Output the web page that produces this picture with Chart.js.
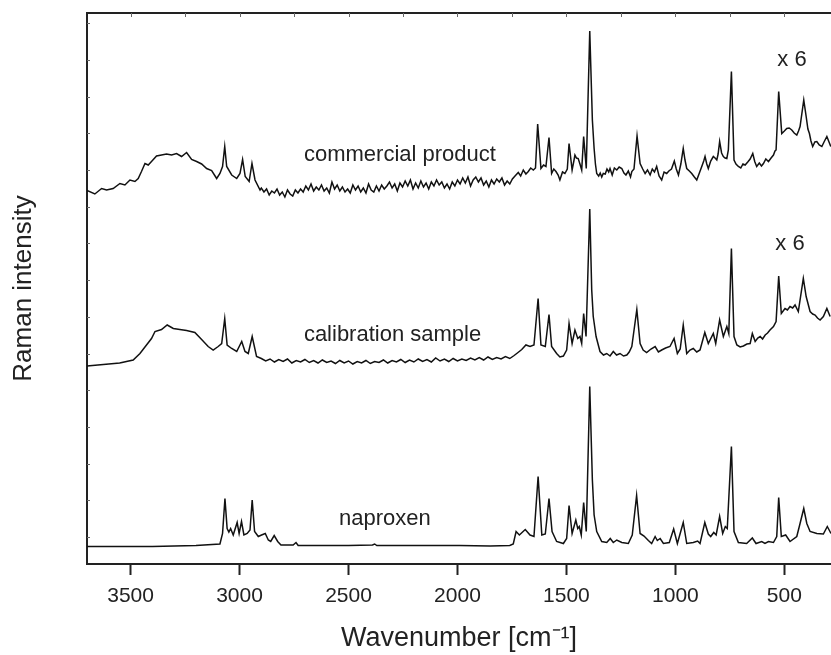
<!DOCTYPE html>
<html>
<head>
<meta charset="utf-8">
<script src="https://cdn.jsdelivr.net/npm/chart.js@4.4.0/dist/chart.umd.min.js"></script>
<style>
  html, body { margin: 0; padding: 0; background: #fff; overflow: hidden; }
</style>
</head>
<body>
<canvas id="raman" width="831" height="655"></canvas>
<script>
// wavenumber (cm-1) / intensity (a.u.)
const napWn = [
  3700, 3400, 3200, 3090, 3078, 3067, 3057, 3049, 3041, 3029,
  3011, 3002, 2991, 2980, 2965, 2952, 2942, 2931, 2914, 2899,
  2882, 2868, 2857, 2841, 2825, 2810, 2754, 2741, 2731, 2662,
  2500, 2390, 2380, 2370, 2200, 1990, 1850, 1760, 1744, 1731,
  1716, 1689, 1667, 1649, 1630, 1613, 1597, 1580, 1566, 1545,
  1514, 1499, 1488, 1474, 1457, 1448, 1441, 1432, 1421, 1409,
  1393, 1381, 1373, 1361, 1338, 1315, 1299, 1285, 1269, 1246,
  1216, 1198, 1178, 1162, 1144, 1124, 1109, 1093, 1083, 1070,
  1055, 1028, 1008, 991, 964, 948, 918, 898, 887, 865,
  849, 838, 824, 813, 797, 783, 771, 762, 743, 731,
  711, 673, 647, 630, 604, 589, 573, 550, 535, 526,
  514, 494, 474, 443, 428, 411, 397, 382, 351, 321,
  303, 286
];
const napI = [
  35, 35, 37, 40, 61, 131, 71, 64, 71, 58,
  83, 61, 85, 58, 61, 68, 128, 65, 55, 58,
  61, 48, 45, 57, 45, 38, 38, 43, 37, 37,
  37, 38, 40, 37, 37, 37, 36, 37, 40, 65,
  58, 69, 58, 55, 175, 58, 60, 131, 65, 45,
  41, 51, 117, 61, 88, 71, 75, 58, 123, 65,
  355, 168, 98, 65, 45, 43, 51, 43, 48, 43,
  41, 58, 137, 61, 56, 47, 41, 55, 47, 51,
  41, 43, 70, 41, 83, 41, 43, 46, 41, 83,
  60, 55, 63, 58, 95, 61, 75, 71, 235, 65,
  43, 41, 52, 41, 45, 41, 45, 43, 55, 133,
  55, 58, 45, 55, 81, 111, 81, 65, 61, 60,
  75, 61
];

const calWn = [
  3700, 3650, 3600, 3550, 3488, 3457, 3427, 3404, 3388, 3358,
  3332, 3304, 3274, 3243, 3205, 3174, 3144, 3121, 3098, 3082,
  3068, 3057, 3036, 3013, 2990, 2975, 2960, 2942, 2922,
  2900, 2880, 2860, 2840, 2820, 2800, 2780, 2760, 2740, 2720,
  2700, 2680, 2660, 2640, 2620, 2600, 2580, 2560, 2540, 2520,
  2500, 2480, 2460, 2440, 2420, 2400, 2380, 2360, 2340, 2320,
  2300, 2280, 2260, 2240, 2220, 2200, 2180, 2160, 2140, 2120,
  2100, 2080, 2060, 2040, 2020, 2000, 1980, 1960, 1940, 1920,
  1900, 1880, 1860, 1840, 1820, 1800, 1780, 1760, 1740,
  1728, 1705, 1686, 1667, 1649, 1630, 1617, 1597, 1580, 1568,
  1545, 1530, 1514, 1499, 1488, 1474, 1461, 1448, 1438, 1430,
  1421, 1410, 1393, 1384, 1377, 1364, 1346, 1330, 1315, 1300,
  1285, 1270, 1254, 1238, 1223, 1212, 1200, 1177, 1162, 1148,
  1132, 1112, 1093, 1078, 1063, 1045, 1025, 1006, 991, 978,
  964, 948, 933, 918, 902, 887, 865, 849, 826, 815,
  797, 780, 764, 755, 743, 731, 718, 703, 688, 672,
  657, 647, 634, 622, 611, 600, 588, 577, 566, 550,
  538, 526, 514, 497, 486, 474, 462, 451, 436, 413,
  400, 382, 370, 359, 348, 336, 321, 305, 290
];
const calI = [
  396, 398, 400, 402, 408, 421, 438, 451, 465, 469,
  478, 471, 469, 467, 463, 449, 435, 428, 435, 441,
  491, 438, 431, 425, 445, 425, 421, 455, 415,
  411, 406, 410, 404, 409, 405, 410, 402, 407, 404,
  409, 403, 407, 402, 408, 403, 406, 401, 407, 402,
  406, 400, 405, 402, 407, 401, 405, 403, 408, 402,
  407, 404, 409, 403, 408, 404, 410, 405, 409, 404,
  412, 406, 410, 405, 411, 406, 410, 407, 412, 408,
  413, 408, 414, 409, 413, 410, 415, 411, 417,
  421, 429, 438, 435, 438, 531, 438, 435, 499, 435,
  421, 414, 416, 428, 481, 441, 468, 451, 455, 441,
  501, 455, 710, 548, 495, 455, 425, 418, 421, 416,
  425, 418, 421, 416, 418, 424, 435, 509, 441, 428,
  423, 430, 435, 424, 428, 432, 435, 451, 421, 430,
  478, 421, 428, 431, 424, 428, 463, 441, 461, 441,
  488, 455, 475, 461, 631, 455, 438, 434, 436, 440,
  441, 461, 445, 452, 455, 450, 458, 462, 468, 475,
  485, 576, 501, 511, 508, 515, 512, 518, 505, 571,
  535, 505, 500, 498, 492, 488, 495, 511, 495
];

const comWn = [
  3700, 3664, 3633, 3610, 3580, 3549, 3526, 3503, 3480, 3465,
  3450, 3434, 3419, 3404, 3381, 3358, 3335, 3312, 3289, 3266,
  3243, 3220, 3197, 3174, 3151, 3128, 3105, 3090, 3078, 3068,
  3059, 3036, 3013, 2998, 2986, 2974, 2956, 2943, 2929, 2906,
  2900, 2888, 2876, 2864, 2852, 2840, 2828, 2816, 2804, 2792,
  2780, 2768, 2756, 2744, 2732, 2720, 2708, 2696, 2684, 2672,
  2660, 2648, 2636, 2624, 2612, 2600, 2588, 2576, 2564, 2552,
  2540, 2528, 2516, 2504, 2492, 2480, 2468, 2456, 2444, 2432,
  2420, 2408, 2396, 2384, 2372, 2360, 2348, 2336, 2324, 2312,
  2300, 2288, 2276, 2264, 2252, 2240, 2228, 2216, 2204, 2192,
  2180, 2168, 2156, 2144, 2132, 2120, 2108, 2096, 2084, 2072,
  2060, 2048, 2036, 2024, 2012, 2000, 1988, 1976, 1964, 1952,
  1940, 1928, 1916, 1904, 1892, 1880, 1868, 1856, 1844, 1832,
  1820, 1808, 1796, 1784, 1772, 1760, 1748, 1736,
  1721, 1710, 1698, 1686, 1675, 1664, 1652, 1642, 1632, 1617,
  1605, 1594, 1580, 1568, 1558, 1548, 1538, 1530, 1518, 1507,
  1496, 1488, 1474, 1466, 1461, 1454, 1446, 1438, 1430, 1421,
  1409, 1393, 1381, 1373, 1367, 1361, 1352, 1345, 1338, 1331,
  1322, 1314, 1306, 1300, 1290, 1280, 1269, 1258, 1246, 1236,
  1227, 1216, 1206, 1200, 1190, 1176, 1162, 1150, 1139, 1128,
  1116, 1106, 1096, 1086, 1075, 1063, 1052, 1040, 1030, 1018,
  1005, 996, 986, 975, 964, 956, 948, 936, 925, 913,
  902, 890, 879, 870, 864, 856, 849, 838, 826, 818,
  810, 804, 797, 788, 780, 772, 764, 757, 743, 731,
  722, 711, 700, 690, 680, 668, 657, 645, 636, 627,
  615, 605, 596, 585, 573, 561, 550, 543, 538, 526,
  512, 500, 489, 478, 466, 455, 443, 435, 428, 411,
  400, 392, 385, 378, 370, 360, 351, 340, 328, 318,
  305, 296, 287
];
const comI = [
  747, 740, 751, 748, 751, 761, 758, 768, 765, 771,
  785, 801, 798, 805, 816, 818, 820, 818, 821, 815,
  823, 809, 805, 800, 791, 787, 771, 781, 795, 835,
  795, 778, 771, 781, 809, 775, 765, 801, 768, 748,
  752, 744, 750, 738, 746, 742, 750, 738, 744, 734,
  748, 740, 736, 748, 742, 750, 744, 756, 748, 760,
  746, 754, 748, 758, 746, 752, 742, 764, 750, 758,
  746, 754, 744, 750, 742, 758, 748, 756, 744, 752,
  742, 760, 748, 744, 756, 746, 758, 750, 756, 764,
  752, 760, 746, 762, 754, 766, 756, 768, 750, 762,
  752, 766, 754, 762, 750, 764, 756, 768, 758, 764,
  752, 760, 750, 764, 756, 768, 760, 772, 762, 774,
  756, 768, 774, 764, 772, 758, 766, 754, 768, 760,
  770, 764, 772, 758, 766, 760, 770, 776,
  783, 776, 788, 780, 785, 792, 788, 792, 880, 791,
  798, 795, 853, 781, 790, 785, 778, 768, 784, 781,
  790, 841, 788, 806, 818, 812, 811, 800, 788, 855,
  791, 1066, 888, 831, 800, 781, 776, 782, 774, 781,
  780, 790, 784, 791, 778, 792, 788, 794, 791, 782,
  778, 786, 774, 785, 790, 856, 801, 790, 781, 788,
  778, 790, 784, 795, 776, 768, 784, 781, 786, 790,
  806, 790, 778, 800, 831, 808, 791, 786, 781, 774,
  768, 782, 795, 806, 815, 800, 791, 806, 815, 812,
  808, 820, 845, 822, 815, 812, 811, 828, 985, 808,
  800, 795, 792, 800, 798, 804, 810, 821, 805, 795,
  802, 796, 801, 810, 805, 812, 818, 826, 828, 945,
  861, 866, 871, 872, 868, 862, 858, 866, 875, 928,
  895, 870, 861, 846, 835, 844, 845, 838, 835, 844,
  855, 845, 835
];

const xTicks = [3500, 3000, 2500, 2000, 1500, 1000, 500];
const seriesNames = ['naproxen', 'calibration sample', 'commercial product'];
const scaleNotes = ['x 6', 'x 6'];

const FONT = '"Liberation Sans", Arial, Helvetica, sans-serif';
const INK = '#222';

function pairs(wn, inten) {
    return wn.map((w, i) => ({ x: w, y: inten[i] }));
}

function lineSet(label, wn, inten) {
    return {
        label: label,
        data: pairs(wn, inten),
        borderColor: '#111',
        borderWidth: 1.5,
        pointRadius: 0,
        tension: 0,
        fill: false
    };
}

// text anchors in data units (wavenumber, intensity)
const notes = [
    { text: seriesNames[2], wn: 2264, i: 818 },
    { text: seriesNames[1], wn: 2298, i: 458 },
    { text: seriesNames[0], wn: 2333, i: 90 },
    { text: scaleNotes[0], wn: 465, i: 1009 },
    { text: scaleNotes[1], wn: 474, i: 641 }
];

const decor = {
    id: 'decor',
    afterDatasetsDraw(chart) {
        const { ctx, chartArea, scales } = chart;
        ctx.save();
        ctx.strokeStyle = '#666';
        ctx.lineWidth = 1;
        // small inward ticks on top and left frame
        for (let v = 500; v <= 3500; v += 250) {
            const px = Math.round(scales.x2.getPixelForValue(v)) + 0.5;
            ctx.beginPath();
            ctx.moveTo(px, chartArea.top);
            ctx.lineTo(px, chartArea.top + 4);
            ctx.stroke();
        }
        for (let k = 0; k < 15; k++) {
            const py = Math.round(scales.y.getPixelForValue(54 + k * 73.4)) + 0.5;
            ctx.beginPath();
            ctx.moveTo(chartArea.left, py);
            ctx.lineTo(chartArea.left + 3, py);
            ctx.stroke();
        }
        ctx.fillStyle = INK;
        ctx.font = '22px ' + FONT;
        ctx.textAlign = 'center';
        ctx.textBaseline = 'middle';
        notes.forEach(n => {
            ctx.fillText(n.text, scales.x.getPixelForValue(n.wn), scales.y.getPixelForValue(n.i));
        });
        ctx.restore();
    }
};

new Chart(document.getElementById('raman'), {
    type: 'line',
    data: {
        datasets: [
            lineSet(seriesNames[0], napWn, napI),
            lineSet(seriesNames[1], calWn, calI),
            lineSet(seriesNames[2], comWn, comI)
        ]
    },
    options: {
        responsive: false,
        animation: false,
        devicePixelRatio: 1,
        layout: { padding: { top: 13, left: 0, right: 0, bottom: 0 } },
        plugins: {
            legend: { display: false },
            tooltip: { enabled: false }
        },
        scales: {
            x: {
                type: 'linear',
                position: 'bottom',
                reverse: true,
                min: 286,
                max: 3700,
                afterBuildTicks: s => { s.ticks = xTicks.map(v => ({ value: v })); },
                afterFit: s => { s.height = 91; },
                grid: { display: true, drawOnChartArea: false, drawTicks: true, tickLength: 11, tickWidth: 2, tickColor: INK },
                border: { display: true, color: INK, width: 2 },
                ticks: {
                    color: INK,
                    font: { family: FONT, size: 21 },
                    padding: 9,
                    maxRotation: 0,
                    autoSkip: false,
                    callback: v => String(v)
                },
                title: {
                    display: true,
                    text: 'Wavenumber [cm⁻¹]',
                    color: INK,
                    font: { family: FONT, size: 27 },
                    padding: { top: 0, bottom: 0 }
                }
            },
            x2: {
                type: 'linear',
                position: 'top',
                reverse: true,
                min: 286,
                max: 3700,
                afterFit: s => { s.height = 0; },
                grid: { display: true, drawOnChartArea: false, drawTicks: false },
                border: { display: true, color: INK, width: 2 },
                ticks: { display: false }
            },
            y: {
                position: 'left',
                min: 0,
                max: 1102,
                afterFit: s => { s.width = 87; },
                grid: { display: true, drawOnChartArea: false, drawTicks: false },
                border: { display: true, color: INK, width: 2 },
                ticks: { display: false },
                title: {
                    display: true,
                    text: 'Raman intensity',
                    color: INK,
                    font: { family: FONT, size: 26 },
                    padding: { top: 8, bottom: 0 }
                }
            }
        }
    },
    plugins: [decor]
});
</script>
</body>
</html>
